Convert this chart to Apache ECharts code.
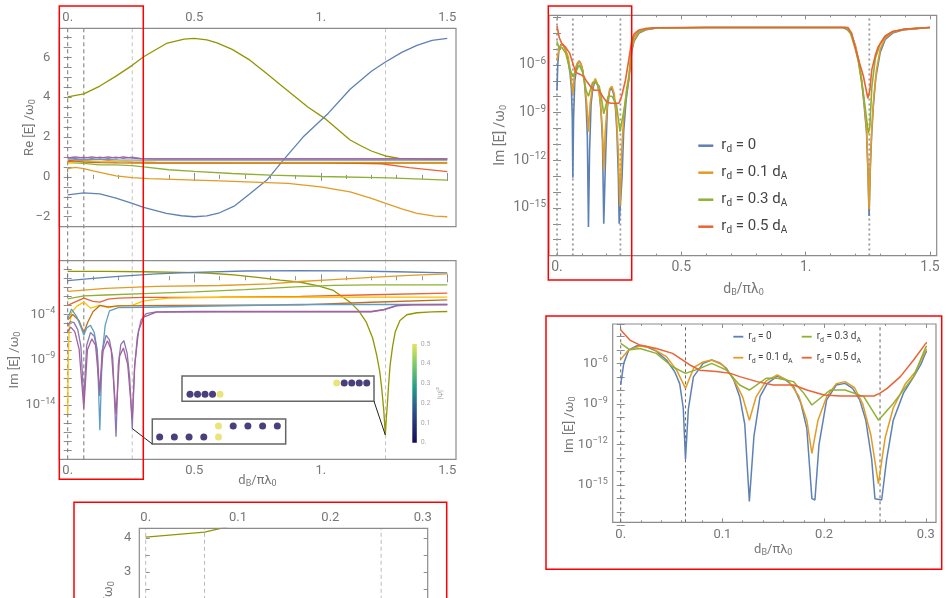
<!DOCTYPE html>
<html>
<head>
<meta charset="utf-8">
<script src="https://cdn.jsdelivr.net/npm/echarts@6.0.0/dist/echarts.min.js"></script>
<style>
  html, body { margin: 0; background: #fff; }
  #chart { width: 948px; height: 598px; }
</style>
</head>
<body>
<div id="chart"></div>
<script>
// x values are d_B / (pi lambda_0)
const dividerX = [0, 0.0637, 0.255, 1.256]

// Re[E]/w0 of the ten modes (top left, and zoomed bottom left)
const reOlive = [[0,4.02],[0.0637,4.17],[0.127,4.56],[0.191,5.06],[0.255,5.6],[0.3,6.03],[0.39,6.7],[0.46,6.92],[0.5,6.95],[0.55,6.88],[0.59,6.73],[0.65,6.4],[0.72,5.86],[0.78,5.25],[0.85,4.53],[0.95,3.5],[1.02,2.9],[1.116,1.85],[1.16,1.55],[1.2,1.3],[1.255,1.05],[1.31,0.93],[1.4,0.89],[1.5,0.88]]
const reBlue = [[0,-0.9],[0.0637,-0.8],[0.127,-0.85],[0.191,-1.06],[0.255,-1.33],[0.3,-1.53],[0.39,-1.83],[0.45,-1.95],[0.5,-2.0],[0.55,-1.96],[0.6,-1.8],[0.66,-1.45],[0.72,-0.85],[0.787,-0.16],[0.852,0.84],[0.93,2.0],[1.03,3.2],[1.116,4.4],[1.2,5.3],[1.257,5.78],[1.32,6.25],[1.38,6.6],[1.44,6.85],[1.5,6.95]]
const reOrange = [[0,0.42],[0.03,0.48],[0.0637,0.42],[0.1,0.3],[0.15,0.17],[0.191,0.05],[0.255,-0.04],[0.32,-0.09],[0.6,-0.2],[0.87,-0.33],[1.0,-0.5],[1.116,-0.75],[1.2,-1.08],[1.257,-1.33],[1.32,-1.6],[1.38,-1.83],[1.45,-1.97],[1.5,-2.0]]
const reGreen = [[0,0.72],[0.0637,0.68],[0.127,0.6],[0.191,0.6],[0.255,0.57],[0.3,0.5],[0.4,0.36],[0.5,0.28],[0.65,0.17],[0.8,0.09],[1.0,0.02],[1.27,-0.05],[1.5,-0.16]]
const reRed = [[0,0.76],[0.0637,0.82],[0.1,0.76],[0.127,0.75],[0.16,0.8],[0.191,0.76],[0.23,0.78],[0.255,0.74],[0.35,0.72],[1.0,0.72],[1.24,0.66],[1.35,0.47],[1.5,0.26]]
const reGold = [[0,0.7],[0.0637,0.8],[0.127,0.76],[0.191,0.78],[0.255,0.75],[0.35,0.74],[1.5,0.73]]
const reDarkOrange = [[0,0.84],[0.0637,0.74],[0.127,0.72],[0.191,0.7],[0.3,0.69],[1.5,0.69]]
const reLightBlue = [[0,0.9],[0.0637,0.86],[0.127,0.88],[0.2,0.85],[0.3,0.84],[1.5,0.84]]
const reLavender = [[0,0.98],[0.03,0.93],[0.0637,0.99],[0.095,0.93],[0.127,0.99],[0.16,0.93],[0.191,0.99],[0.22,0.93],[0.255,0.99],[0.29,0.92],[0.35,0.9],[1.5,0.9]]
const reMagenta = [[0,0.95],[0.03,1.0],[0.0637,0.94],[0.095,1.0],[0.127,0.94],[0.16,1.0],[0.191,0.94],[0.22,1.0],[0.255,0.94],[0.29,0.92],[0.35,0.9],[1.5,0.9]]

// log10 of Im[E]/w0 of the same modes (middle left)
const imOlive = [[0,0.77],[0.15,0.75],[0.3,0.72],[0.45,0.66],[0.55,0.58],[0.655,0.38],[0.75,0.1],[0.84,-0.2],[0.92,-0.44],[0.99,-0.85],[1.05,-1.35],[1.116,-2.64],[1.15,-3.6],[1.18,-4.85],[1.205,-6.6],[1.221,-8.5],[1.233,-10.3],[1.241,-12.2],[1.249,-14.6],[1.255,-17.3],[1.259,-15.5],[1.263,-14.0],[1.268,-11.8],[1.274,-9.6],[1.284,-7.5],[1.294,-5.95],[1.313,-4.66],[1.34,-4.03],[1.38,-3.81],[1.44,-3.72],[1.5,-3.67]]
const imBlue = [[0,-0.25],[0.1,-0.02],[0.2,0.2],[0.35,0.49],[0.5,0.66],[0.7,0.8],[0.92,0.85],[1.1,0.82],[1.3,0.72],[1.5,0.6]]
const imOrange = [[0,-1.45],[0.0637,-1.3],[0.15,-1.12],[0.35,-0.9],[0.6,-0.8],[0.8,-0.62],[0.92,-0.36],[1.05,-0.15],[1.2,0.1],[1.35,0.32],[1.5,0.48]]
const imGreen = [[0,-2.27],[0.0637,-1.95],[0.15,-1.85],[0.3,-1.7],[0.5,-1.5],[0.7,-1.25],[0.9,-0.95],[1.05,-0.78],[1.2,-0.74],[1.5,-0.73]]
const imRed = [[0,-3.0],[0.03,-2.6],[0.0637,-2.2],[0.1,-2.55],[0.127,-2.63],[0.16,-2.3],[0.2,-2.2],[0.3,-2.12],[0.6,-2.1],[0.92,-2.01],[1.2,-1.82],[1.5,-1.65]]
const imGold = [[0,-15],[0.002,-9],[0.006,-5.5],[0.015,-3.8],[0.035,-3.1],[0.0637,-2.63],[0.09,-3.3],[0.127,-3.0],[0.16,-3.25],[0.2,-3.05],[0.255,-3.0],[0.3,-2.5],[0.4,-2.2],[0.6,-2.1],[1.5,-2.09]]
const imDarkOrange = [[0,-4.6],[0.02,-4.0],[0.045,-4.7],[0.0637,-6.0],[0.08,-4.8],[0.1,-3.7],[0.127,-3.0],[0.16,-3.15],[0.2,-3.05],[0.4,-3.0],[0.92,-2.93],[1.2,-2.65],[1.5,-2.38]]
const imLightBlue = [[0,-4.5],[0.015,-3.4],[0.035,-4.2],[0.055,-5.6],[0.0637,-6.3],[0.075,-5.5],[0.09,-5.2],[0.105,-6.0],[0.117,-8.0],[0.127,-16.8],[0.136,-8.5],[0.148,-5.2],[0.165,-3.6],[0.2,-3.25],[0.3,-3.2],[0.92,-2.9],[1.5,-2.9]]
const imLavender = [[0,-5.3],[0.01,-4.8],[0.025,-4.9],[0.04,-5.7],[0.052,-7.5],[0.0637,-13.5],[0.075,-7.4],[0.09,-6.0],[0.105,-6.4],[0.117,-8.2],[0.1265,-13.0],[0.136,-8.0],[0.152,-6.3],[0.165,-6.8],[0.178,-8.8],[0.191,-17.5],[0.2,-9.5],[0.21,-7.3],[0.222,-6.9],[0.235,-8.3],[0.245,-11],[0.255,-16.6],[0.264,-10],[0.275,-6.5],[0.29,-4.6],[0.31,-3.9],[0.35,-3.72],[0.5,-3.67],[1.2,-3.67],[1.25,-3.45],[1.3,-3.0],[1.36,-2.92],[1.5,-2.9]]
const imMagenta = [[0,-5.9],[0.012,-5.4],[0.028,-5.9],[0.045,-7.8],[0.0637,-14.4],[0.078,-7.9],[0.095,-6.7],[0.11,-7.4],[0.1265,-12.5],[0.14,-8.0],[0.157,-6.9],[0.172,-7.9],[0.191,-15.0],[0.205,-8.6],[0.22,-7.7],[0.237,-9.5],[0.255,-15.5],[0.265,-9.5],[0.28,-5.8],[0.3,-4.3],[0.35,-3.75],[0.6,-3.7],[1.2,-3.7],[1.25,-3.5],[1.3,-3.05],[1.36,-2.95],[1.5,-2.92]]

// log10 of Im[E]/w0 for the disorder radii r_d (right panels)
const rd0 = [[0,-7.6],[0.003,-6.0],[0.008,-5.0],[0.016,-4.7],[0.025,-4.75],[0.035,-5.1],[0.045,-5.75],[0.053,-6.6],[0.058,-7.5],[0.0615,-9.3],[0.0637,-13.1],[0.0665,-9.4],[0.0715,-7.0],[0.081,-6.0],[0.0895,-5.75],[0.097,-5.95],[0.104,-6.37],[0.111,-7.2],[0.117,-8.46],[0.122,-10.5],[0.1265,-16.2],[0.131,-11.4],[0.137,-8.46],[0.144,-7.5],[0.154,-6.94],[0.162,-7.2],[0.17,-7.72],[0.177,-8.9],[0.183,-10.8],[0.188,-16.0],[0.191,-16.1],[0.195,-12.0],[0.2025,-8.7],[0.212,-7.6],[0.2206,-7.48],[0.228,-7.85],[0.235,-8.7],[0.241,-10.2],[0.2468,-13.1],[0.25,-16.0],[0.2566,-16.1],[0.2615,-13.1],[0.268,-10.2],[0.278,-8.2],[0.288,-7.0],[0.295,-6.1],[0.3,-5.2],[0.31,-4.5],[0.33,-4.0],[0.36,-3.78],[0.4,-3.68],[0.6,-3.65],[1.15,-3.65],[1.17,-3.8],[1.185,-4.1],[1.2,-4.8],[1.212,-5.7],[1.225,-7.0],[1.235,-8.5],[1.245,-10.3],[1.25,-12.5],[1.255,-15.5],[1.26,-12.5],[1.265,-10.5],[1.272,-8.6],[1.282,-6.8],[1.3,-5.2],[1.32,-4.4],[1.35,-4.0],[1.39,-3.8],[1.45,-3.7],[1.5,-3.65]]
const rd01 = [[0,-5.7],[0.008,-5.0],[0.019,-4.72],[0.03,-4.85],[0.045,-5.5],[0.055,-6.5],[0.0637,-7.85],[0.072,-6.3],[0.081,-5.9],[0.0895,-5.75],[0.1,-6.1],[0.11,-7.0],[0.12,-8.5],[0.1265,-10.2],[0.133,-8.5],[0.143,-7.3],[0.154,-6.86],[0.165,-7.3],[0.175,-8.4],[0.183,-10.2],[0.188,-12.65],[0.194,-10.2],[0.2025,-8.46],[0.212,-7.5],[0.2206,-7.35],[0.23,-7.8],[0.238,-9.0],[0.246,-11.3],[0.2534,-14.9],[0.26,-11.5],[0.268,-9.3],[0.28,-7.5],[0.29,-6.6],[0.3,-5.05],[0.31,-4.4],[0.33,-3.95],[0.36,-3.75],[0.4,-3.68],[0.6,-3.65],[1.16,-3.65],[1.18,-3.95],[1.2,-4.8],[1.212,-5.6],[1.225,-6.9],[1.235,-8.3],[1.245,-10.1],[1.25,-12.3],[1.255,-15.1],[1.26,-12.2],[1.266,-10.0],[1.274,-8.0],[1.285,-6.3],[1.3,-5.0],[1.32,-4.3],[1.35,-3.95],[1.39,-3.78],[1.45,-3.7],[1.5,-3.65]]
const rd03 = [[0,-4.52],[0.009,-5.0],[0.019,-4.9],[0.035,-5.26],[0.051,-6.25],[0.0637,-6.74],[0.078,-6.37],[0.0895,-6.0],[0.104,-6.5],[0.117,-7.6],[0.1265,-7.97],[0.143,-7.1],[0.154,-7.1],[0.17,-7.35],[0.18,-8.2],[0.188,-9.08],[0.206,-7.97],[0.2206,-7.97],[0.239,-8.46],[0.2534,-10.2],[0.268,-8.96],[0.288,-6.98],[0.3,-4.8],[0.31,-4.2],[0.33,-3.9],[0.36,-3.74],[0.4,-3.67],[0.6,-3.65],[1.16,-3.65],[1.18,-4.0],[1.198,-4.9],[1.212,-5.8],[1.232,-7.8],[1.245,-9.4],[1.252,-10.3],[1.258,-9.9],[1.266,-7.4],[1.28,-5.6],[1.299,-4.7],[1.319,-4.2],[1.35,-3.9],[1.4,-3.75],[1.5,-3.65]]
const rd05 = [[0,-3.54],[0.009,-4.28],[0.019,-4.65],[0.035,-4.9],[0.051,-5.26],[0.068,-6.12],[0.078,-6.5],[0.094,-6.6],[0.108,-6.74],[0.117,-6.98],[0.134,-7.35],[0.15,-7.6],[0.17,-7.6],[0.183,-7.97],[0.2,-8.34],[0.216,-8.41],[0.249,-8.41],[0.255,-8.2],[0.262,-7.85],[0.275,-6.98],[0.288,-5.75],[0.3,-4.52],[0.31,-4.05],[0.33,-3.8],[0.36,-3.7],[0.4,-3.66],[0.6,-3.65],[1.17,-3.65],[1.185,-4.0],[1.198,-4.85],[1.215,-5.8],[1.232,-6.7],[1.25,-8.1],[1.258,-7.6],[1.266,-6.3],[1.28,-5.4],[1.292,-4.85],[1.319,-4.2],[1.35,-3.9],[1.4,-3.75],[1.5,-3.65]]
const rdNames = ['rd0', 'rd0.1', 'rd0.3', 'rd0.5']
const rdLabels = ['r{s|d} = 0', 'r{s|d} = 0.1 d{s|A}', 'r{s|d} = 0.3 d{s|A}', 'r{s|d} = 0.5 d{s|A}']

// inset chains: [site position, row]
const chainA_dark = [[0,0.28],[1,0.28],[2,0.28],[3,0.28],[5,0.72],[6,0.72],[7,0.72],[8,0.72]]
const chainA_light = [[4,0.28],[4,0.72]]
const chainB_dark = [[0,0.28],[1,0.28],[2,0.28],[3,0.28],[20.56,0.72],[21.56,0.72],[22.56,0.72],[23.56,0.72]]
const chainB_light = [[4,0.28],[19.56,0.72]]
const psiMax = [0.5]

const modeColors = ['#929600','#5E81B5','#E19C24','#8FB032','#EB6235','#FFBF00','#C56E1A','#5D9EC7','#8778B3','#A5609D']
const rdColors = ['#5E81B5','#E19C24','#8FB032','#EB6235']
const FRAME = '#8c8c8c'
const LABEL = '#777'
const NAVY = '#1b0f5b'
const YELLOW = '#e4df5b'

const reModes = [reOlive, reBlue, reOrange, reGreen, reRed, reGold, reDarkOrange, reLightBlue, reLavender, reMagenta]
const imModes = [imOlive, imBlue, imOrange, imGreen, imRed, imGold, imDarkOrange, imLightBlue, imLavender, imMagenta]
const rdSets = [rd0, rd01, rd03, rd05]

const chart = echarts.init(document.getElementById('chart'))

const sub = { fontSize: 9, lineHeight: 10, verticalAlign: 'bottom' }
const tick = { show: true, inside: true, length: 4, lineStyle: { color: FRAME, width: 1 } }
const minor = { show: true, splitNumber: 5, length: 2, lineStyle: { color: FRAME, width: 1 } }

const fmtX = v => {
  const t = Math.round(v * 100) / 100
  return Number.isInteger(t) ? t + '.' : String(t)
}
const logFmt = keep => v => keep.includes(v) ? '{b|10}{p|−' + (-v) + '}' : ''
const logRich = (fs) => ({ b: { fontSize: fs, lineHeight: fs + 3, color: LABEL }, p: { fontSize: fs - 4, lineHeight: fs - 3, verticalAlign: 'top', color: LABEL } })

const grid = (left, top, width, height, extra) => Object.assign({ left, top, width, height, containLabel: false, outerBoundsMode: 'none' }, extra || {})

function xAx(gridIndex, position, max, step, labels, extra) {
  return Object.assign({
    type: 'value', gridIndex, position, min: 0, max, interval: step,
    axisLine: { show: false }, splitLine: { show: false },
    axisTick: tick, minorTick: minor,
    axisLabel: labels ? { show: true, color: LABEL, fontSize: 13, margin: 5, formatter: fmtX } : { show: false }
  }, extra || {})
}
function yAx(gridIndex, position, offset, min, max, step, formatter, extra) {
  return Object.assign({
    type: 'value', gridIndex, position, offset, min, max, interval: step,
    axisLine: { show: false }, splitLine: { show: false },
    axisTick: tick,
    axisLabel: formatter ? { show: true, color: LABEL, fontSize: 13, margin: 5, formatter } : { show: false }
  }, extra || {})
}
const hidden = (gridIndex, min, max) => ({ type: 'value', gridIndex, min, max, show: false })
const yName = (name, gap, fs) => ({
  name, nameLocation: 'middle', nameRotate: 90, nameGap: gap, nameMoveOverlap: false,
  nameTextStyle: { color: LABEL, fontSize: fs, lineHeight: 16, rich: { s: sub } }
})
const xName = (name, gap, fs) => ({
  name, nameLocation: 'middle', nameGap: gap, nameMoveOverlap: false,
  nameTextStyle: { color: LABEL, fontSize: fs, lineHeight: 16, rich: { s: sub } }
})

const grids = [
  grid(67.7, 28.3, 379.6, 198.4),      // 0 Re
  grid(67.7, 260.7, 379.6, 198.6),     // 1 Im
  grid(67.7, 28.3, 379.6, 431),        // 2 dividers through both left panels
  grid(145.7, 528.3, 277, 162.5),      // 3 zoomed Re
  grid(557, 15.3, 373, 240.3),         // 4 Im vs r_d
  grid(620.7, 324, 305.1, 201.7),      // 5 zoomed Im vs r_d
  grid(152.3, 419, 133.4, 25, { show: true, borderColor: '#666', borderWidth: 1.5, backgroundColor: '#fff', z: 5 }),
  grid(182, 376, 192, 25.3, { show: true, borderColor: '#666', borderWidth: 1.5, backgroundColor: '#fff', z: 5 }),
  grid(412.3, 344, 4.5, 98.7)          // 8 colour bar
]

const xAxes = [
  xAx(0, 'top', 1.5, 0.5, true, { axisLabel: { show: true, color: LABEL, fontSize: 13, margin: 4, formatter: fmtX } }),
  xAx(0, 'bottom', 1.5, 0.5, false),
  xAx(1, 'bottom', 1.5, 0.5, true, xName('d{s|B}/πλ{s|0}', 13, 13)),
  xAx(1, 'top', 1.5, 0.5, false),
  hidden(2, 0, 1.5),
  xAx(3, 'top', 0.3, 0.1, true, { axisLabel: { show: true, color: LABEL, fontSize: 13, margin: 4, formatter: fmtX } }),
  xAx(4, 'bottom', 1.5, 0.5, true, Object.assign(xName('d{s|B}/πλ{s|0}', 26, 14), { axisLabel: { show: true, color: LABEL, fontSize: 14, margin: 5, formatter: fmtX } })),
  xAx(4, 'top', 1.5, 0.5, false),
  xAx(5, 'bottom', 0.3, 0.1, true, Object.assign(xName('d{s|B}/πλ{s|0}', 19, 13), { offset: -3.4, axisLabel: { show: true, color: LABEL, fontSize: 13, margin: 6, formatter: fmtX } })),
  xAx(5, 'top', 0.3, 0.1, false),
  hidden(6, -0.5, 8.57),
  hidden(7, -1.07, 24.53),
  { type: 'category', gridIndex: 8, data: ['psi'], show: false }
]

const reFmt = v => (Number.isInteger(v) && v % 2 === 0 && v >= -2 && v <= 6) ? (v < 0 ? '−' + (-v) : String(v)) : ''
const yAxes = [
  yAx(0, 'left', 8.4, -2.5, 7.46, 0.5, reFmt, Object.assign(yName('Re [E] /ω{s|0}', 22, 13), { axisLabel: { show: true, color: LABEL, fontSize: 13, margin: 9, formatter: reFmt } })),
  yAx(0, 'right', 8.7, -2.5, 7.46, 0.5, null),
  yAx(1, 'left', 8.4, -20, 1.94, 1, logFmt([-4, -9, -14]), Object.assign(yName('Im [E] /ω{s|0}', 37, 13), { axisLabel: { show: true, margin: 4, formatter: logFmt([-4, -9, -14]), rich: logRich(13) } })),
  yAx(1, 'right', 8.7, -20, 1.94, 1, null),
  hidden(2, 0, 1),
  yAx(3, 'left', 6.4, -0.5, 4.28, 0.5, v => Number.isInteger(v) ? String(v) : '', Object.assign(yName('Re [E] /ω{s|0}', 23, 13), { axisLabel: { show: true, color: LABEL, fontSize: 13, margin: 8, formatter: v => Number.isInteger(v) ? String(v) : '' } })),
  yAx(3, 'right', 5, -0.5, 4.28, 0.5, null),
  yAx(4, 'left', 8, -18, -2.88, 1, logFmt([-6, -9, -12, -15]), Object.assign(yName('Im [E] /ω{s|0}', 41, 14), { axisLabel: { show: true, margin: 3, formatter: logFmt([-6, -9, -12, -15]), rich: logRich(14) } })),
  yAx(4, 'right', 6.7, -18, -2.88, 1, null),
  yAx(5, 'left', 8, -18, -3.09, 1, logFmt([-6, -9, -12, -15]), Object.assign(yName('Im [E] /ω{s|0}', 35, 13), { axisLabel: { show: true, margin: 5, formatter: logFmt([-6, -9, -12, -15]), rich: logRich(13) } })),
  yAx(5, 'right', 10.2, -18, -3.09, 1, null),
  hidden(6, 0, 1),
  hidden(7, 0, 1),
  {
    type: 'value', gridIndex: 8, position: 'right', min: 0, max: 0.5, interval: 0.1,
    axisLine: { show: false }, axisTick: { show: false }, splitLine: { show: false },
    axisLabel: { show: true, color: '#aaa', fontSize: 7, margin: 4, formatter: v => v === 0 ? '0.' : v.toFixed(1) },
    name: '|ψ|²', nameLocation: 'middle', nameRotate: 90, nameGap: 19, nameMoveOverlap: false,
    nameTextStyle: { color: '#aaa', fontSize: 8 }
  }
]

const line = (data, xi, yi, color, width, name) => ({
  type: 'line', name, data, xAxisIndex: xi, yAxisIndex: yi, color,
  showSymbol: false, symbol: 'none', silent: true, clip: true,
  lineStyle: { color, width: width || 1.3 }, z: 2
})
const vline = (x, xi, yi, lo, hi, color, type, width) => ({
  type: 'line', data: [[x, lo], [x, hi]], xAxisIndex: xi, yAxisIndex: yi,
  showSymbol: false, symbol: 'none', silent: true,
  lineStyle: { color, type, width }, z: 1
})

const series = []
dividerX.forEach((x, i) => series.push(vline(x, 4, 4, 0, 1, i < 2 ? '#777' : '#c4c4c4', [4, 3], 1)))
dividerX.slice(0, 3).forEach(x => series.push(vline(x, 5, 5, -0.5, 4.28, '#bbb', [4, 3], 1)))
dividerX.forEach(x => series.push(vline(x, 6, 7, -18, -2.88, '#999', [2, 3], 1.8)))
dividerX.slice(0, 3).forEach(x => series.push(vline(x, 8, 9, -17.75, -3.09, '#666', [3, 3], 1)))
reModes.forEach((d, i) => series.push(line(d, 0, 0, modeColors[i])))
imModes.forEach((d, i) => series.push(line(d, 2, 2, modeColors[i])))
reModes.forEach((d, i) => series.push(line(d, 5, 5, modeColors[i])))
rdSets.forEach((d, i) => series.push(line(d, 6, 7, rdColors[i], 1.6, rdNames[i])))
rdSets.forEach((d, i) => series.push(line(d, 8, 9, rdColors[i], 1.5, rdNames[i])))
const dot = (data, xi, yi, color) => ({ type: 'scatter', data, xAxisIndex: xi, yAxisIndex: yi, symbolSize: 7, itemStyle: { color }, silent: true, z: 6 })
series.push(dot(chainA_dark, 10, 11, NAVY), dot(chainA_light, 10, 11, YELLOW))
series.push(dot(chainB_dark, 11, 12, NAVY), dot(chainB_light, 11, 12, YELLOW))
series.push({
  type: 'bar', data: psiMax, xAxisIndex: 12, yAxisIndex: 13, barWidth: '100%', silent: true,
  itemStyle: { color: new echarts.graphic.LinearGradient(0, 0, 0, 1, [
    { offset: 0, color: '#e5e35a' }, { offset: 0.2, color: '#7fcb68' },
    { offset: 0.45, color: '#229a8a' }, { offset: 0.7, color: '#2a4a8c' }, { offset: 1, color: '#160b57' }
  ]) }
})

const legendBase = {
  orient: 'vertical', icon: 'rect', padding: 0, selectedMode: false,
  formatter: n => rdLabels[rdNames.indexOf(n)]
}
const legends = [
  Object.assign({}, legendBase, { data: rdNames, left: 698.3, top: 136.7, itemWidth: 15, itemHeight: 2.5, itemGap: 9,
    textStyle: { color: '#444', fontSize: 15, lineHeight: 18, padding: [0, 0, 0, 3], rich: { s: { fontSize: 10, lineHeight: 10, verticalAlign: 'bottom', color: '#444' } } } }),
  Object.assign({}, legendBase, { data: rdNames.slice(0, 2), left: 733.3, top: 329.7, itemWidth: 10, itemHeight: 1.8, itemGap: 7,
    textStyle: { color: '#444', fontSize: 10, lineHeight: 14, rich: { s: { fontSize: 7, lineHeight: 7, verticalAlign: 'bottom', color: '#444' } } } }),
  Object.assign({}, legendBase, { data: rdNames.slice(2), left: 801.7, top: 329.7, itemWidth: 10, itemHeight: 1.8, itemGap: 7,
    textStyle: { color: '#444', fontSize: 10, lineHeight: 14, rich: { s: { fontSize: 7, lineHeight: 7, verticalAlign: 'bottom', color: '#444' } } } })
]

chart.setOption({
  animation: false,
  textStyle: { fontFamily: 'Roboto' },
  grid: grids,
  xAxis: xAxes,
  yAxis: yAxes,
  legend: legends,
  series
})

// frames, highlight boxes and inset connectors
const rect = (x, y, w, h, stroke, lw, z) => ({ type: 'rect', shape: { x, y, width: w, height: h }, style: { fill: 'none', stroke, lineWidth: lw }, silent: true, z })
const frames = [[59.3, 28.3, 396.7, 198.4], [59.3, 260.7, 396.7, 198.6], [139.3, 528.3, 288.4, 200], [549, 15.3, 387.7, 240.3], [612.7, 324, 323.3, 198.3]]
const boxes = [[59.3, 6, 84, 473.3], [548.3, 6, 83.4, 274], [546, 316, 395.7, 253.3], [74, 502.3, 372.7, 120]]
const lavIdx = series.indexOf(series.find(s => s.data === imLavender))
const oliveIdx = series.indexOf(series.find(s => s.data === imOlive))
const dipA = chart.convertToPixel({ seriesIndex: lavIdx }, imLavender.find(p => p[0] === 0.255))
const dipB = chart.convertToPixel({ seriesIndex: oliveIdx }, imOlive.find(p => p[0] === 1.255))
const graphics = []
frames.forEach(f => graphics.push(rect(f[0], f[1], f[2], f[3], FRAME, 1.2, 10)))
boxes.forEach(b => graphics.push(rect(b[0], b[1], b[2], b[3], '#ff0000', 1.5, 20)))
graphics.push({ type: 'line', shape: { x1: 152.3, y1: 444, x2: dipA[0], y2: dipA[1] }, style: { stroke: '#222', lineWidth: 1 }, silent: true, z: 8 })
graphics.push({ type: 'line', shape: { x1: 374, y1: 401.3, x2: dipB[0], y2: dipB[1] }, style: { stroke: '#222', lineWidth: 1 }, silent: true, z: 8 })
chart.setOption({ graphic: graphics })
</script>
</body>
</html>
